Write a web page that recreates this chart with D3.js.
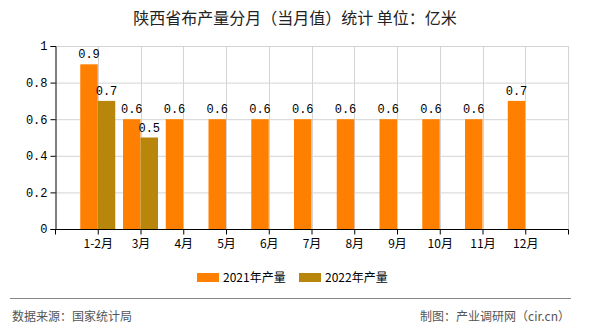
<!DOCTYPE html>
<html><head><meta charset="utf-8">
<script src="https://cdn.jsdelivr.net/npm/d3@7"></script>
<style>body{margin:0;background:#fff}svg{display:block}</style>
</head><body>
<svg id="c" width="590" height="330"></svg>
<script>
const categories = ["1-2月","3月","4月","5月","6月","7月","8月","9月","10月","11月","12月"];
const series2021 = [0.9,0.6,0.6,0.6,0.6,0.6,0.6,0.6,0.6,0.6,0.7];
const series2022 = [0.7,0.5,null,null,null,null,null,null,null,null,null];
const seriesNames = ["2021年产量","2022年产量"];
const yTicks = [0,0.2,0.4,0.6,0.8,1];
const titleText = "陕西省布产量分月（当月值）统计 单位：亿米";
const sourceText = "数据来源：国家统计局";
const creditText = "制图：产业调研网（cir.cn）";

const colors = ["#FF8000","#B8860B"];
const svg = d3.select("#c");
const L = 55, R = 568, T = 46, B = 229;
const x = d3.scalePoint().domain(categories).range([L,R]).padding(1);
const y = d3.scaleLinear().domain([0,1]).range([B,T]);
const bw = 17.5;
const mono = "'Liberation Mono','DejaVu Sans Mono',monospace";
const sans = "'Noto Sans CJK SC','Noto Sans',sans-serif";

svg.append("text").attr("x",295).attr("y",24).attr("text-anchor","middle")
  .attr("font-family",sans).attr("font-size",16).attr("fill","#222").text(titleText);

// grid
const g = svg.append("g");
g.selectAll(".hg").data(yTicks.filter(d=>d>0)).join("line")
  .attr("x1",L).attr("x2",R).attr("y1",d=>y(d)+0.5).attr("y2",d=>y(d)+0.5)
  .attr("stroke","#d4d4d4").attr("stroke-width",1);
const vgx = categories.map(c=>x(c)).concat([R]);
g.selectAll(".vg").data(vgx).join("line")
  .attr("x1",d=>Math.round(d)+0.5).attr("x2",d=>Math.round(d)+0.5).attr("y1",T).attr("y2",B)
  .attr("stroke","#d4d4d4").attr("stroke-width",1);

// bars
const bars = svg.append("g");
bars.selectAll(".b1").data(categories).join("rect")
  .attr("x",c=>x(c)-bw).attr("width",bw)
  .attr("y",(c,i)=>y(series2021[i])).attr("height",(c,i)=>y(0)-y(series2021[i]))
  .attr("fill",colors[0]);
const d22 = categories.map((c,i)=>({c,v:series2022[i]})).filter(d=>d.v!=null);
bars.selectAll(".b2").data(d22).join("rect")
  .attr("x",d=>x(d.c)).attr("width",bw)
  .attr("y",d=>y(d.v)).attr("height",d=>y(0)-y(d.v))
  .attr("fill",colors[1]);

// labels
svg.append("g").selectAll("text").data(categories).join("text")
  .attr("x",c=>x(c)-bw/2).attr("y",(c,i)=>y(series2021[i])-6)
  .attr("text-anchor","middle").attr("font-family",mono).attr("font-size",12).attr("fill","#000")
  .text((c,i)=>series2021[i]);
svg.append("g").selectAll("text").data(d22).join("text")
  .attr("x",d=>x(d.c)+bw/2).attr("y",d=>y(d.v)-6)
  .attr("text-anchor","middle").attr("font-family",mono).attr("font-size",12).attr("fill","#000")
  .text(d=>d.v);

// axes
const yAxis = svg.append("g").attr("transform",`translate(${L+0.5},0)`)
  .call(d3.axisLeft(y).tickValues(yTicks).tickSize(5).tickFormat(d=>d));
yAxis.select(".domain").attr("stroke","#000");
yAxis.selectAll(".tick line").attr("stroke","#000");
yAxis.selectAll("text").attr("font-family",mono).attr("font-size",12).attr("fill","#000").attr("x",-8);

const xAxis = svg.append("g").attr("transform",`translate(0,${B+0.5})`)
  .call(d3.axisBottom(x).tickSize(5).tickSizeOuter(0));
xAxis.select(".domain").attr("stroke","#000").attr("d",`M${L},0H${R+0.5}`);
xAxis.selectAll(".tick line").attr("stroke","#000");
xAxis.selectAll("text").attr("font-family",sans).attr("font-size",12).attr("fill","#000").attr("dy","0.9em");
xAxis.append("g").selectAll("line").data([L,R]).join("line")
  .attr("x1",d=>d+0.5).attr("x2",d=>d+0.5).attr("y1",0).attr("y2",5).attr("stroke","#000");

// legend
const lg = svg.append("g");
const lx = [197,299];
seriesNames.forEach((n,i)=>{
  lg.append("rect").attr("x",lx[i]).attr("y",273).attr("width",22).attr("height",9).attr("fill",colors[i]);
  lg.append("text").attr("x",lx[i]+26).attr("y",282).attr("font-family",sans).attr("font-size",12)
    .attr("fill","#000").text(n);
});

// footer
svg.append("line").attr("x1",10).attr("x2",571).attr("y1",298.5).attr("y2",298.5).attr("stroke","#888");
svg.append("text").attr("x",12).attr("y",321).attr("font-family",sans).attr("font-size",12).attr("fill","#555").text(sourceText);
svg.append("text").attr("x",570).attr("y",321).attr("text-anchor","end").attr("font-family",sans).attr("font-size",12).attr("fill","#555").text(creditText);
</script>
</body></html>
